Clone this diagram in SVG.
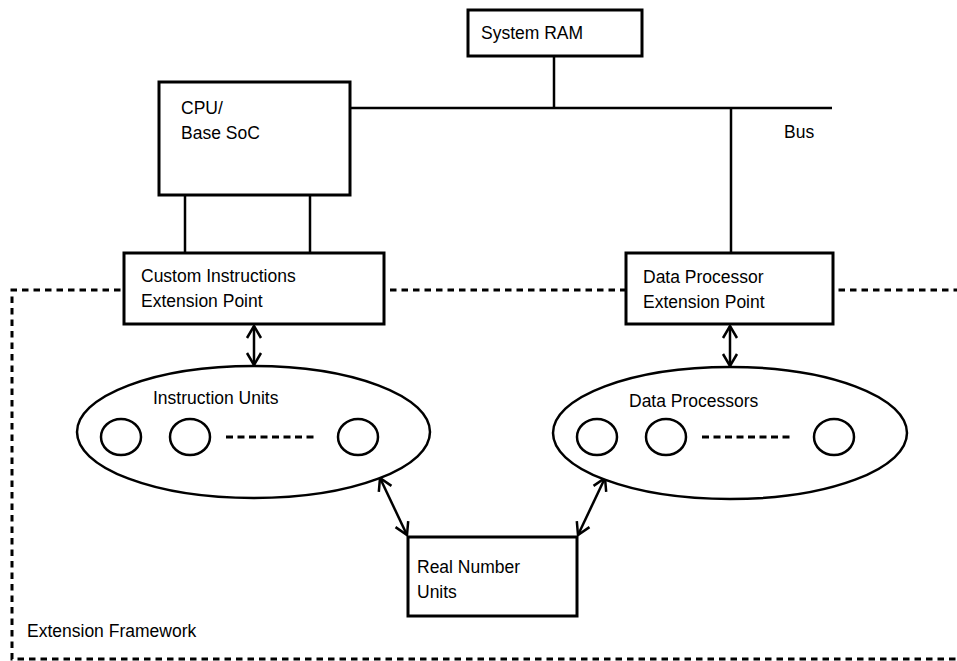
<svg xmlns="http://www.w3.org/2000/svg" width="957" height="661" viewBox="0 0 957 661">
<style>
  text { font-family: "Liberation Sans", Arial, sans-serif; font-size: 17.5px; fill: #000; }
  .box { fill: #fff; stroke: #000; stroke-width: 3; }
  .line { fill: none; stroke: #000; stroke-width: 2.5; }
  .oval { fill: #fff; stroke: #000; stroke-width: 2.5; }
  .unit { fill: #fff; stroke: #000; stroke-width: 2.5; }
  .dots { fill: none; stroke: #000; stroke-width: 3; stroke-dasharray: 7 4.5; }
  .frame { fill: none; stroke: #000; stroke-width: 3; stroke-dasharray: 6.5 5; }
  .arrow { fill: none; stroke: #000; stroke-width: 2.5; marker-start: url(#head); marker-end: url(#head); }
</style>
<defs>
  <marker id="head" markerUnits="userSpaceOnUse" viewBox="-14 -9 16 18" refX="0" refY="0" markerWidth="16" markerHeight="18" orient="auto-start-reverse">
    <path d="M-12,-7 L0,0 L-12,7" fill="none" stroke="#000" stroke-width="2.5"/>
  </marker>
</defs>

<g id="extension-framework">
  <path class="frame" d="M960,290 L12,290 L12,659 L960,659"/>
  <text x="27" y="637">Extension Framework</text>
</g>

<g id="connectors">
  <line class="line" x1="350" y1="108" x2="832" y2="108"/>
  <line class="line" x1="554" y1="56" x2="554" y2="108"/>
  <line class="line" x1="731" y1="108" x2="731" y2="253"/>
  <line class="line" x1="185" y1="195" x2="185" y2="253"/>
  <line class="line" x1="310" y1="195" x2="310" y2="253"/>
  <line class="arrow" x1="254" y1="326" x2="254" y2="365"/>
  <line class="arrow" x1="730" y1="326" x2="730" y2="366"/>
  <line class="arrow" x1="380" y1="478" x2="407" y2="535"/>
  <line class="arrow" x1="605" y1="478" x2="578" y2="535"/>
</g>

<g id="bus-label">
  <text x="784" y="138">Bus</text>
</g>

<g id="system-ram">
  <rect class="box" x="468" y="10" width="174" height="46"/>
  <text x="481" y="39">System RAM</text>
</g>

<g id="cpu">
  <rect class="box" x="159" y="82" width="191" height="113"/>
  <text x="181" y="114">CPU/</text>
  <text x="181" y="139">Base SoC</text>
</g>

<g id="custom-instructions">
  <rect class="box" x="124" y="253" width="260" height="71"/>
  <text x="141" y="282">Custom Instructions</text>
  <text x="141" y="307">Extension Point</text>
</g>

<g id="data-processor-ep">
  <rect class="box" x="626" y="253" width="207" height="71"/>
  <text x="643" y="283">Data Processor</text>
  <text x="643" y="308">Extension Point</text>
</g>

<g id="instruction-units">
  <ellipse class="oval" cx="253.5" cy="432" rx="176.5" ry="66"/>
  <text x="153" y="404">Instruction Units</text>
  <ellipse class="unit" cx="121" cy="437" rx="20" ry="18"/>
  <ellipse class="unit" cx="190" cy="437" rx="20" ry="18"/>
  <line class="dots" x1="226" y1="437" x2="318" y2="437"/>
  <ellipse class="unit" cx="358" cy="437" rx="20" ry="18"/>
</g>

<g id="data-processors">
  <ellipse class="oval" cx="730" cy="433" rx="177" ry="66"/>
  <text x="629" y="407">Data Processors</text>
  <ellipse class="unit" cx="597" cy="437" rx="20" ry="18"/>
  <ellipse class="unit" cx="666" cy="437" rx="20" ry="18"/>
  <line class="dots" x1="702" y1="437" x2="794" y2="437"/>
  <ellipse class="unit" cx="834" cy="437" rx="20" ry="18"/>
</g>

<g id="real-number-units">
  <rect class="box" x="408" y="537" width="169" height="79"/>
  <text x="417" y="573">Real Number</text>
  <text x="417" y="598">Units</text>
</g>
</svg>
